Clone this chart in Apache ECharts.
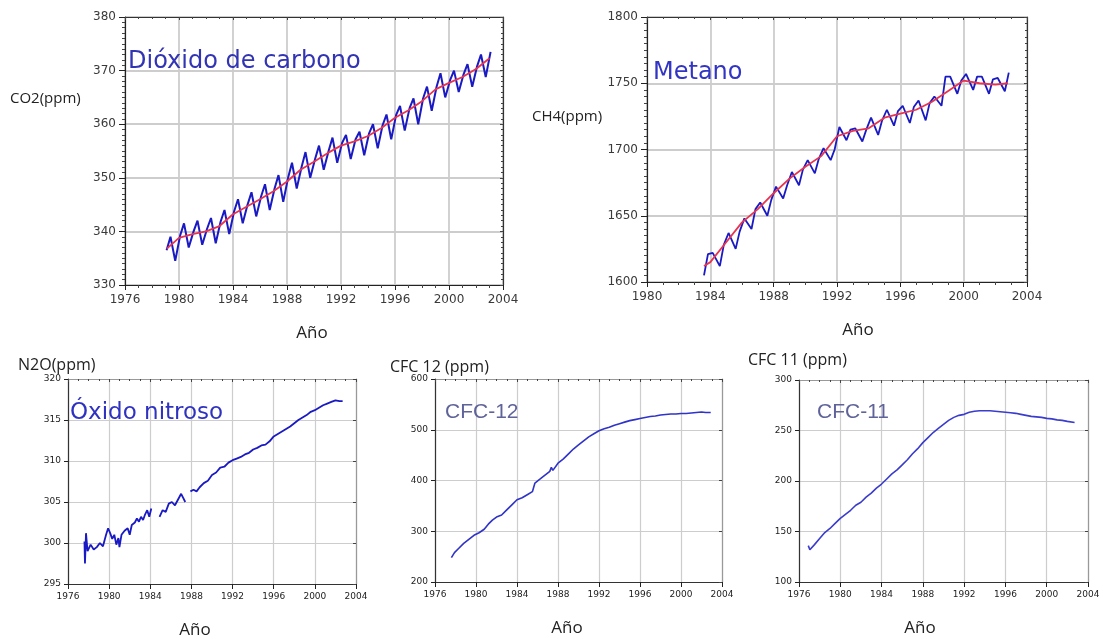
<!DOCTYPE html>
<html>
<head>
<meta charset="utf-8">
<title>Gases de efecto invernadero</title>
<script src="https://cdn.jsdelivr.net/npm/echarts@6/dist/echarts.min.js"></script>
<style>
html, body { margin: 0; padding: 0; background: #fff; }
#main { width: 1103px; height: 639px; }
</style>
</head>
<body>
<div id="main"></div>
<script>
// ---- CO2 (ppm): three samples per year (ene, may, sep) + curva de tendencia
const co2Years = [1979, 1980, 1981, 1982, 1983, 1984, 1985, 1986, 1987, 1988, 1989, 1990, 1991,
  1992, 1993, 1994, 1995, 1996, 1997, 1998, 1999, 2000, 2001, 2002, 2003];
const co2Jan = [336.5, 339.2, 340.0, 340.5, 341.8, 343.7, 345.0, 346.5, 348.0, 350.0, 352.0, 353.5, 355.0,
  356.5, 357.2, 358.3, 359.8, 361.7, 363.0, 364.8, 367.0, 368.2, 369.3, 370.8, 373.5];
const co2May = [339.0, 341.5, 342.0, 342.5, 344.0, 346.0, 347.3, 348.8, 350.5, 352.8, 354.8, 356.0, 357.5,
  358.0, 358.6, 360.0, 361.8, 363.4, 364.8, 367.0, 369.5, 370.0, 371.2, 373.0, null];
const co2Sep = [334.5, 337.0, 337.5, 337.8, 339.5, 341.5, 342.8, 344.0, 345.5, 348.0, 350.0, 351.5, 352.8,
  353.5, 354.2, 355.5, 357.2, 358.8, 360.0, 362.5, 365.0, 366.0, 367.0, 368.8, null];
const co2TrendYears = [1979.1, 1980, 1981, 1982, 1983, 1984, 1985, 1986, 1987, 1988, 1989, 1990, 1991,
  1992, 1993, 1994, 1995, 1996, 1997, 1998, 1999, 2000, 2001, 2002, 2003];
const co2Trend = [336.8, 338.8, 339.5, 340.0, 341.0, 343.2, 344.6, 346.0, 347.5, 349.3, 351.5, 353.0, 354.6,
  356.0, 356.8, 357.8, 359.3, 361.2, 362.6, 364.3, 366.5, 367.7, 368.8, 370.3, 372.3];

// ---- CH4: samples per year (feb, ago, nov) + tendencia
const ch4Years = [1983, 1984, 1985, 1986, 1987, 1988, 1989, 1990, 1991, 1992, 1993, 1994, 1995,
  1996, 1997, 1998, 1999, 2000, 2001, 2002];
const ch4Feb = [null, 1622, 1637, 1648, 1660, 1672, 1683, 1692, 1701, 1717, 1716, 1724, 1730,
  1733, 1737, 1740, 1755, 1757, 1755, 1754];
const ch4Aug = [1605, 1612, 1625, 1640, 1650, 1663, 1673, 1682, 1692, 1707, 1706, 1711, 1718,
  1720, 1722, 1733, 1742, 1745, 1742, 1744];
const ch4Nov = [1621, 1628, 1638, 1655, 1662, 1673, 1685, 1693, 1700, 1715, 1715, 1722, 1729,
  1732, 1735, 1755, 1752, 1755, 1753, 1758];
const ch4TrendYears = [1983.6, 1984, 1985, 1986, 1987, 1988, 1989, 1990, 1991, 1992, 1993, 1994,
  1995, 1996, 1997, 1998, 1999, 2000, 2001, 2002, 2002.8];
const ch4Trend = [1612, 1615, 1630, 1645, 1655, 1667, 1678, 1687, 1695, 1710, 1714, 1716,
  1724, 1727, 1730, 1736, 1744, 1752, 1750, 1749, 1750];

// ---- N2O ('-' = hueco en la serie)
const n2oYears = [1977.6, 1977.65, 1977.75, 1977.9, 1978.2, 1978.5, 1978.8, 1979.1, 1979.4, 1979.7, 1979.9,
  1980.1, 1980.3, 1980.5, 1980.7, 1980.9, 1981.0, 1981.2, 1981.5, 1981.8, 1982.0, 1982.2, 1982.5,
  1982.7, 1982.9, 1983.1, 1983.3, 1983.5, 1983.7, 1983.9, 1984.1, 1984.5, 1984.9, 1985.2, 1985.5,
  1985.8, 1986.1, 1986.4, 1986.7, 1987.0, 1987.2, 1987.4, 1987.6, 1987.9, 1988.2, 1988.5, 1988.8,
  1989.2, 1989.6, 1990.0, 1990.4, 1990.8, 1991.2, 1991.6, 1992.0, 1992.4, 1992.8, 1993.2, 1993.6,
  1994.0, 1994.4, 1994.8, 1995.2, 1995.6, 1996.0, 1996.4, 1996.8, 1997.2, 1997.6, 1998.0, 1998.4,
  1998.8, 1999.2, 1999.6, 2000.0, 2000.4, 2000.8, 2001.2, 2001.6, 2002.0, 2002.4, 2002.7];
const n2oValues = [300.2, 297.5, 301.2, 299.0, 299.8, 299.2, 299.5, 300.0, 299.6, 301.0, 301.8,
  301.2, 300.5, 301.0, 299.8, 300.6, 299.5, 301.0, 301.5, 301.8, 301.0, 302.2, 302.5,
  303.0, 302.6, 303.2, 302.8, 303.5, 304.0, 303.2, 304.2, '-', 303.2, 304.0, 303.8,
  304.8, 305.0, 304.6, 305.3, 306.0, 305.5, 305.0, '-', 306.3, 306.5, 306.3, 306.8,
  307.3, 307.6, 308.3, 308.6, 309.2, 309.3, 309.8, 310.1, 310.3, 310.5, 310.8, 311.0,
  311.4, 311.6, 311.9, 312.0, 312.4, 313.0, 313.3, 313.6, 313.9, 314.2, 314.6, 315.0,
  315.3, 315.6, 316.0, 316.2, 316.5, 316.8, 317.0, 317.2, 317.4, 317.3, 317.3];

// ---- CFC-12
const cfc12Years = [1977.6, 1977.9, 1978.3, 1978.8, 1979.3, 1979.8, 1980.3, 1980.8, 1981.2, 1981.6,
  1982.0, 1982.5, 1983.0, 1983.5, 1984.0, 1984.5, 1985.0, 1985.5, 1985.75, 1986.2, 1986.7, 1987.2,
  1987.35, 1987.5, 1988.0, 1988.5, 1989.0, 1989.5, 1990.0, 1990.5, 1991.0, 1991.5, 1992.0, 1992.5,
  1993.0, 1993.5, 1994.0, 1994.5, 1995.0, 1995.5, 1996.0, 1996.5, 1997.0, 1997.5, 1998.0, 1998.5,
  1999.0, 1999.5, 2000.0, 2000.5, 2001.0, 2001.5, 2002.0, 2002.4, 2002.9];
const cfc12Values = [248, 258, 266, 276, 284, 292, 297, 304, 314, 322,
  328, 332, 342, 352, 362, 366, 372, 378, 395, 402, 410, 418,
  426, 420, 434, 442, 452, 462, 470, 478, 486, 492, 498, 502,
  505, 509, 512, 515, 518, 520, 522, 524, 526, 527, 529, 530,
  531, 531, 532, 532, 533, 534, 535, 534, 534];

// ---- CFC-11
const cfc11Years = [1976.9, 1977.05, 1977.5, 1978.0, 1978.5, 1979.0, 1979.5, 1980.0, 1980.5, 1981.0,
  1981.5, 1982.0, 1982.5, 1983.0, 1983.5, 1984.0, 1984.5, 1985.0, 1985.5, 1986.0, 1986.5, 1987.0,
  1987.5, 1988.0, 1988.5, 1989.0, 1989.5, 1990.0, 1990.5, 1991.0, 1991.5, 1992.0, 1992.5, 1993.0,
  1993.5, 1994.0, 1994.5, 1995.0, 1995.5, 1996.0, 1996.5, 1997.0, 1997.5, 1998.0, 1998.5, 1999.0,
  1999.5, 2000.0, 2000.5, 2001.0, 2001.5, 2002.0, 2002.7];
const cfc11Values = [136, 132, 137, 143, 149, 153, 158, 163, 167, 171,
  176, 179, 184, 188, 193, 197, 202, 207, 211, 216, 221, 227,
  232, 238, 243, 248, 252, 256, 260, 263, 265, 266, 268, 269,
  269.5, 269.5, 269.5, 269, 268.5, 268, 267.5, 267, 266, 265, 264, 263.5,
  263, 262, 261.5, 260.5, 260, 259, 258];

// helpers
function zip(xs, ys) { return xs.map((x, i) => [x, ys[i]]); }
function seasonal(years, offsets, cols) {
  const out = [];
  years.forEach((y, i) => {
    cols.forEach((col, k) => {
      if (col[i] !== null) out.push([y + offsets[k], col[i]]);
    });
  });
  return out;
}

const co2Blue = seasonal(co2Years, [0.08, 0.37, 0.72], [co2Jan, co2May, co2Sep]);
const ch4Blue = seasonal(ch4Years, [0.15, 0.6, 0.85], [ch4Feb, ch4Aug, ch4Nov]);

const grids = [
  { left: 125, top: 17, width: 378, height: 268 },
  { left: 647, top: 17, width: 380, height: 265 },
  { left: 68, top: 379, width: 288, height: 205 },
  { left: 435, top: 379, width: 287, height: 203 },
  { left: 799, top: 380, width: 289, height: 202 }
];
// [xmin, xmax, ymin, ymax, yinterval, big]
const ranges = [
  [1976, 2004, 330, 380, 10, true],
  [1980, 2004, 1600, 1800, 50, true],
  [1976, 2004, 295, 320, 5, false],
  [1976, 2004, 200, 600, 100, false],
  [1976, 2004, 100, 300, 50, false]
];

const xAxes = [], yAxes = [];
ranges.forEach((r, g) => {
  const big = r[5];
  const lab = big
    ? { fontSize: 12, color: '#3a3a3a', fontFamily: 'DejaVu Sans' }
    : { fontSize: 9, color: '#222', fontFamily: 'DejaVu Sans' };
  const mainLine = { show: true, lineStyle: { color: big ? '#222' : '#333', width: 1.2 } };
  const sideLine = { show: true, lineStyle: { color: big ? '#333' : '#999', width: 1.2 } };
  const split = { show: true, lineStyle: { color: '#cdcdcd', width: big ? 1.8 : 1.2 } };
  xAxes.push({
    gridIndex: g, type: 'value', position: 'bottom', min: r[0], max: r[1], interval: 4,
    axisLine: mainLine, splitLine: split,
    axisTick: { show: true, length: 5, lineStyle: { color: '#222' } },
    minorTick: { show: big, splitNumber: 4, length: 3, lineStyle: { color: '#444' } },
    axisLabel: Object.assign({ margin: big ? 9 : 8, formatter: v => String(v) }, lab)
  });
  xAxes.push({
    gridIndex: g, type: 'value', position: 'top', min: r[0], max: r[1], interval: 4,
    axisLine: sideLine, splitLine: { show: false }, axisLabel: { show: false },
    axisTick: { show: true, inside: true, length: 3, lineStyle: { color: '#444' } },
    minorTick: { show: true, splitNumber: 4, length: 2, lineStyle: { color: '#444' } }
  });
  yAxes.push({
    gridIndex: g, type: 'value', position: 'left', min: r[2], max: r[3], interval: r[4],
    axisLine: mainLine, splitLine: split,
    axisTick: { show: true, length: big ? 6 : 4, lineStyle: { color: '#222' } },
    minorTick: { show: big, splitNumber: 10, length: 3, lineStyle: { color: '#444' } },
    axisLabel: Object.assign({ margin: big ? 9 : 7, formatter: v => String(v) }, lab)
  });
  yAxes.push({
    gridIndex: g, type: 'value', position: 'right', min: r[2], max: r[3], interval: r[4],
    axisLine: sideLine, splitLine: { show: false }, axisLabel: { show: false },
    axisTick: { show: true, inside: true, length: 3, lineStyle: { color: '#444' } },
    minorTick: { show: big, splitNumber: 10, length: 2, lineStyle: { color: '#444' } }
  });
});

function line(g, data, color, width, z) {
  return {
    type: 'line', xAxisIndex: 2 * g, yAxisIndex: 2 * g, data: data,
    showSymbol: false, connectNulls: false, z: z || 2,
    lineStyle: { color: color, width: width }
  };
}

const BLUE = '#1a1ac4';
const RED = '#e8344e';
const series = [
  line(0, co2Blue, BLUE, 2),
  line(0, zip(co2TrendYears, co2Trend), RED, 1.8, 3),
  line(1, ch4Blue, BLUE, 1.8),
  line(1, zip(ch4TrendYears, ch4Trend), RED, 1.8, 3),
  line(2, zip(n2oYears, n2oValues), BLUE, 1.8),
  line(3, zip(cfc12Years, cfc12Values), '#2f33c8', 1.6),
  line(4, zip(cfc11Years, cfc11Values), '#3a3ccc', 1.6)
];

function txt(x, y, s, size, color, family, align) {
  return {
    type: 'text', x: x, y: y, z: 10,
    style: {
      text: s, fontSize: size, fill: color || '#222',
      fontFamily: family || 'Open Sans', textAlign: align || 'left', textVerticalAlign: 'middle'
    }
  };
}

const graphic = [
  txt(10, 99, 'CO2(ppm)', 15),
  txt(312, 333, 'Año', 17, '#222', 'Open Sans', 'center'),
  txt(128, 62, 'Dióxido de carbono', 24, '#3234b4', 'DejaVu Sans'),
  txt(532, 117, 'CH4(ppm)', 15),
  txt(858, 330, 'Año', 17, '#222', 'Open Sans', 'center'),
  txt(653, 73, 'Metano', 24, '#3234c4', 'DejaVu Sans'),
  txt(18, 365, 'N2O(ppm)', 16),
  txt(195, 630, 'Año', 17, '#222', 'Open Sans', 'center'),
  txt(70, 413, 'Óxido nitroso', 23, '#2f32c0', 'DejaVu Sans'),
  txt(390, 367, 'CFC 12 (ppm)', 16),
  txt(567, 628, 'Año', 17, '#222', 'Open Sans', 'center'),
  txt(445, 412, 'CFC-12', 21, '#5f639a', 'Liberation Sans'),
  txt(748, 360, 'CFC 11 (ppm)', 16),
  txt(920, 628, 'Año', 17, '#222', 'Open Sans', 'center'),
  txt(817, 412, 'CFC-11', 21, '#5f639a', 'Liberation Sans')
];

const chart = echarts.init(document.getElementById('main'));
chart.setOption({
  animation: false,
  backgroundColor: '#fff',
  grid: grids,
  xAxis: xAxes,
  yAxis: yAxes,
  series: series,
  graphic: graphic
});
</script>
</body>
</html>
